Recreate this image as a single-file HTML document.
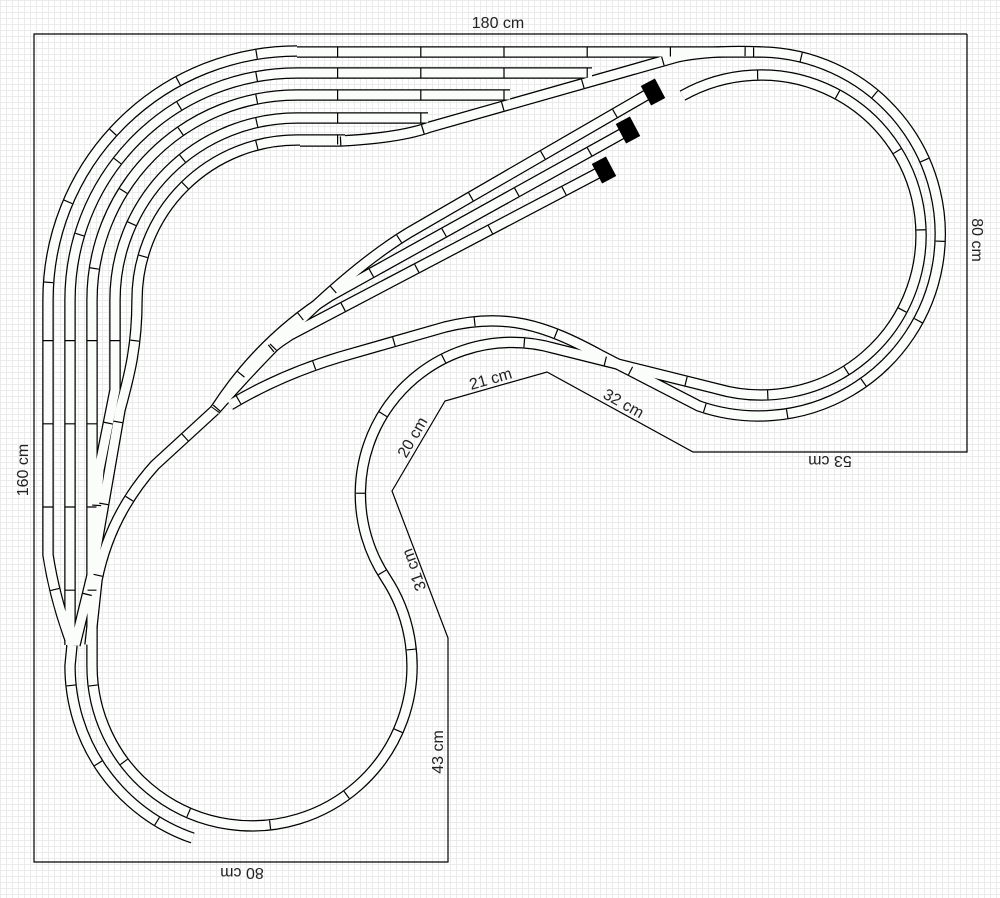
<!DOCTYPE html>
<html><head><meta charset="utf-8"><style>
html,body{margin:0;padding:0;}
body{width:1000px;height:898px;overflow:hidden;background-color:#fff;
background-image:linear-gradient(to right,#ebebeb 1px,transparent 1px),linear-gradient(to bottom,#ebebeb 1px,transparent 1px);
background-size:6px 6px;}
svg{position:absolute;left:0;top:0;}
text{font-family:"Liberation Sans",sans-serif;font-size:16px;fill:#222;}
</style></head><body>
<svg width="1000" height="898" viewBox="0 0 1000 898">
<polyline points="967,34 967,452 693,452 547,372 445,401 392,491 448,638 448,862 34,862 34,34 967,34" fill="none" stroke="#000" stroke-width="1.2"/>
<defs>
<g id="tracks">
<path d="M297 51 A249 249 0 0 0 48 300"/>
<path d="M297 73 A227 227 0 0 0 70 300"/>
<path d="M297 95 A205 205 0 0 0 92 300"/>
<path d="M297 118 A182 182 0 0 0 115 300"/>
<path d="M297 140 A160 160 0 0 0 137 300"/>
<path d="M297 52 L761 52"/>
<path d="M297 73 L592 73"/>
<path d="M297 95 L510 95"/>
<path d="M297 118 L428 118"/>
<path d="M297 140 L345 140"/>
<path d="M300 141 L340 141 Q400 138 430 127 L677 57 Q710 50 761 52"/>
<path d="M48 300 L48 555 Q55 600 72 645"/>
<path d="M70 300 L70 645"/>
<path d="M92 300 L92 645"/>
<path d="M115 300 L115 390 L99 470 L93 560"/>
<path d="M137 300 C137 350 128 380 120 410 L94 560"/>
<path d="M97 555 L75 645"/>
<path d="M215 410 L155 465 Q110 515 97 580 L90 645"/>
<path d="M92 645 L92 666 A160 160 0 1 0 385.5 577.7 A151.7 151.7 0 0 1 553.8 348.2 L716.9 388.8 A160 160 0 1 0 682.5 95.6"/>
<path d="M761 52 A182 182 0 1 1 698.8 406 L600 355 C545 325 505 312 445 327 L340 357 Q280 375 230 405"/>
<path d="M72 645 L70 666 A182 182 0 0 0 192.7 838"/>
<path d="M650 93 L410 232 Q330 280 215 410"/>
<path d="M625 132 L330 296 Q260 340 215 410"/>
<path d="M600 172 L290 335 Q250 360 215 410"/>
</g>
</defs>
<use href="#tracks" fill="none" stroke="#000" stroke-width="11.5"/>
<use href="#tracks" fill="none" stroke="#fbfdfb" stroke-width="9"/>
<use href="#tracks" fill="none" stroke="#000" stroke-width="9" stroke-dasharray="1.2 82" stroke-dashoffset="-40"/>
<g fill="#000">
<rect x="-8" y="-11" width="16" height="22" transform="translate(653,92) rotate(-28)"/>
<rect x="-8" y="-11" width="16" height="22" transform="translate(628,130) rotate(-28)"/>
<rect x="-8" y="-11" width="16" height="22" transform="translate(604,170) rotate(-28)"/>
</g>
<text x="498" y="28" text-anchor="middle">180 cm</text>
<text transform="translate(972,240) rotate(90)" text-anchor="middle">80 cm</text>
<text transform="translate(28,470) rotate(-90)" text-anchor="middle">160 cm</text>
<text transform="translate(242,868) rotate(180)" text-anchor="middle">80 cm</text>
<text transform="translate(830,456) rotate(180)" text-anchor="middle">53 cm</text>
<text transform="translate(621,408) rotate(29)" text-anchor="middle">32 cm</text>
<text transform="translate(492,384) rotate(-16)" text-anchor="middle">21 cm</text>
<text transform="translate(417,440) rotate(-60)" text-anchor="middle">20 cm</text>
<text transform="translate(419,568) rotate(-110)" text-anchor="middle">31 cm</text>
<text transform="translate(443,752) rotate(-90)" text-anchor="middle">43 cm</text>
</svg>
</body></html>
